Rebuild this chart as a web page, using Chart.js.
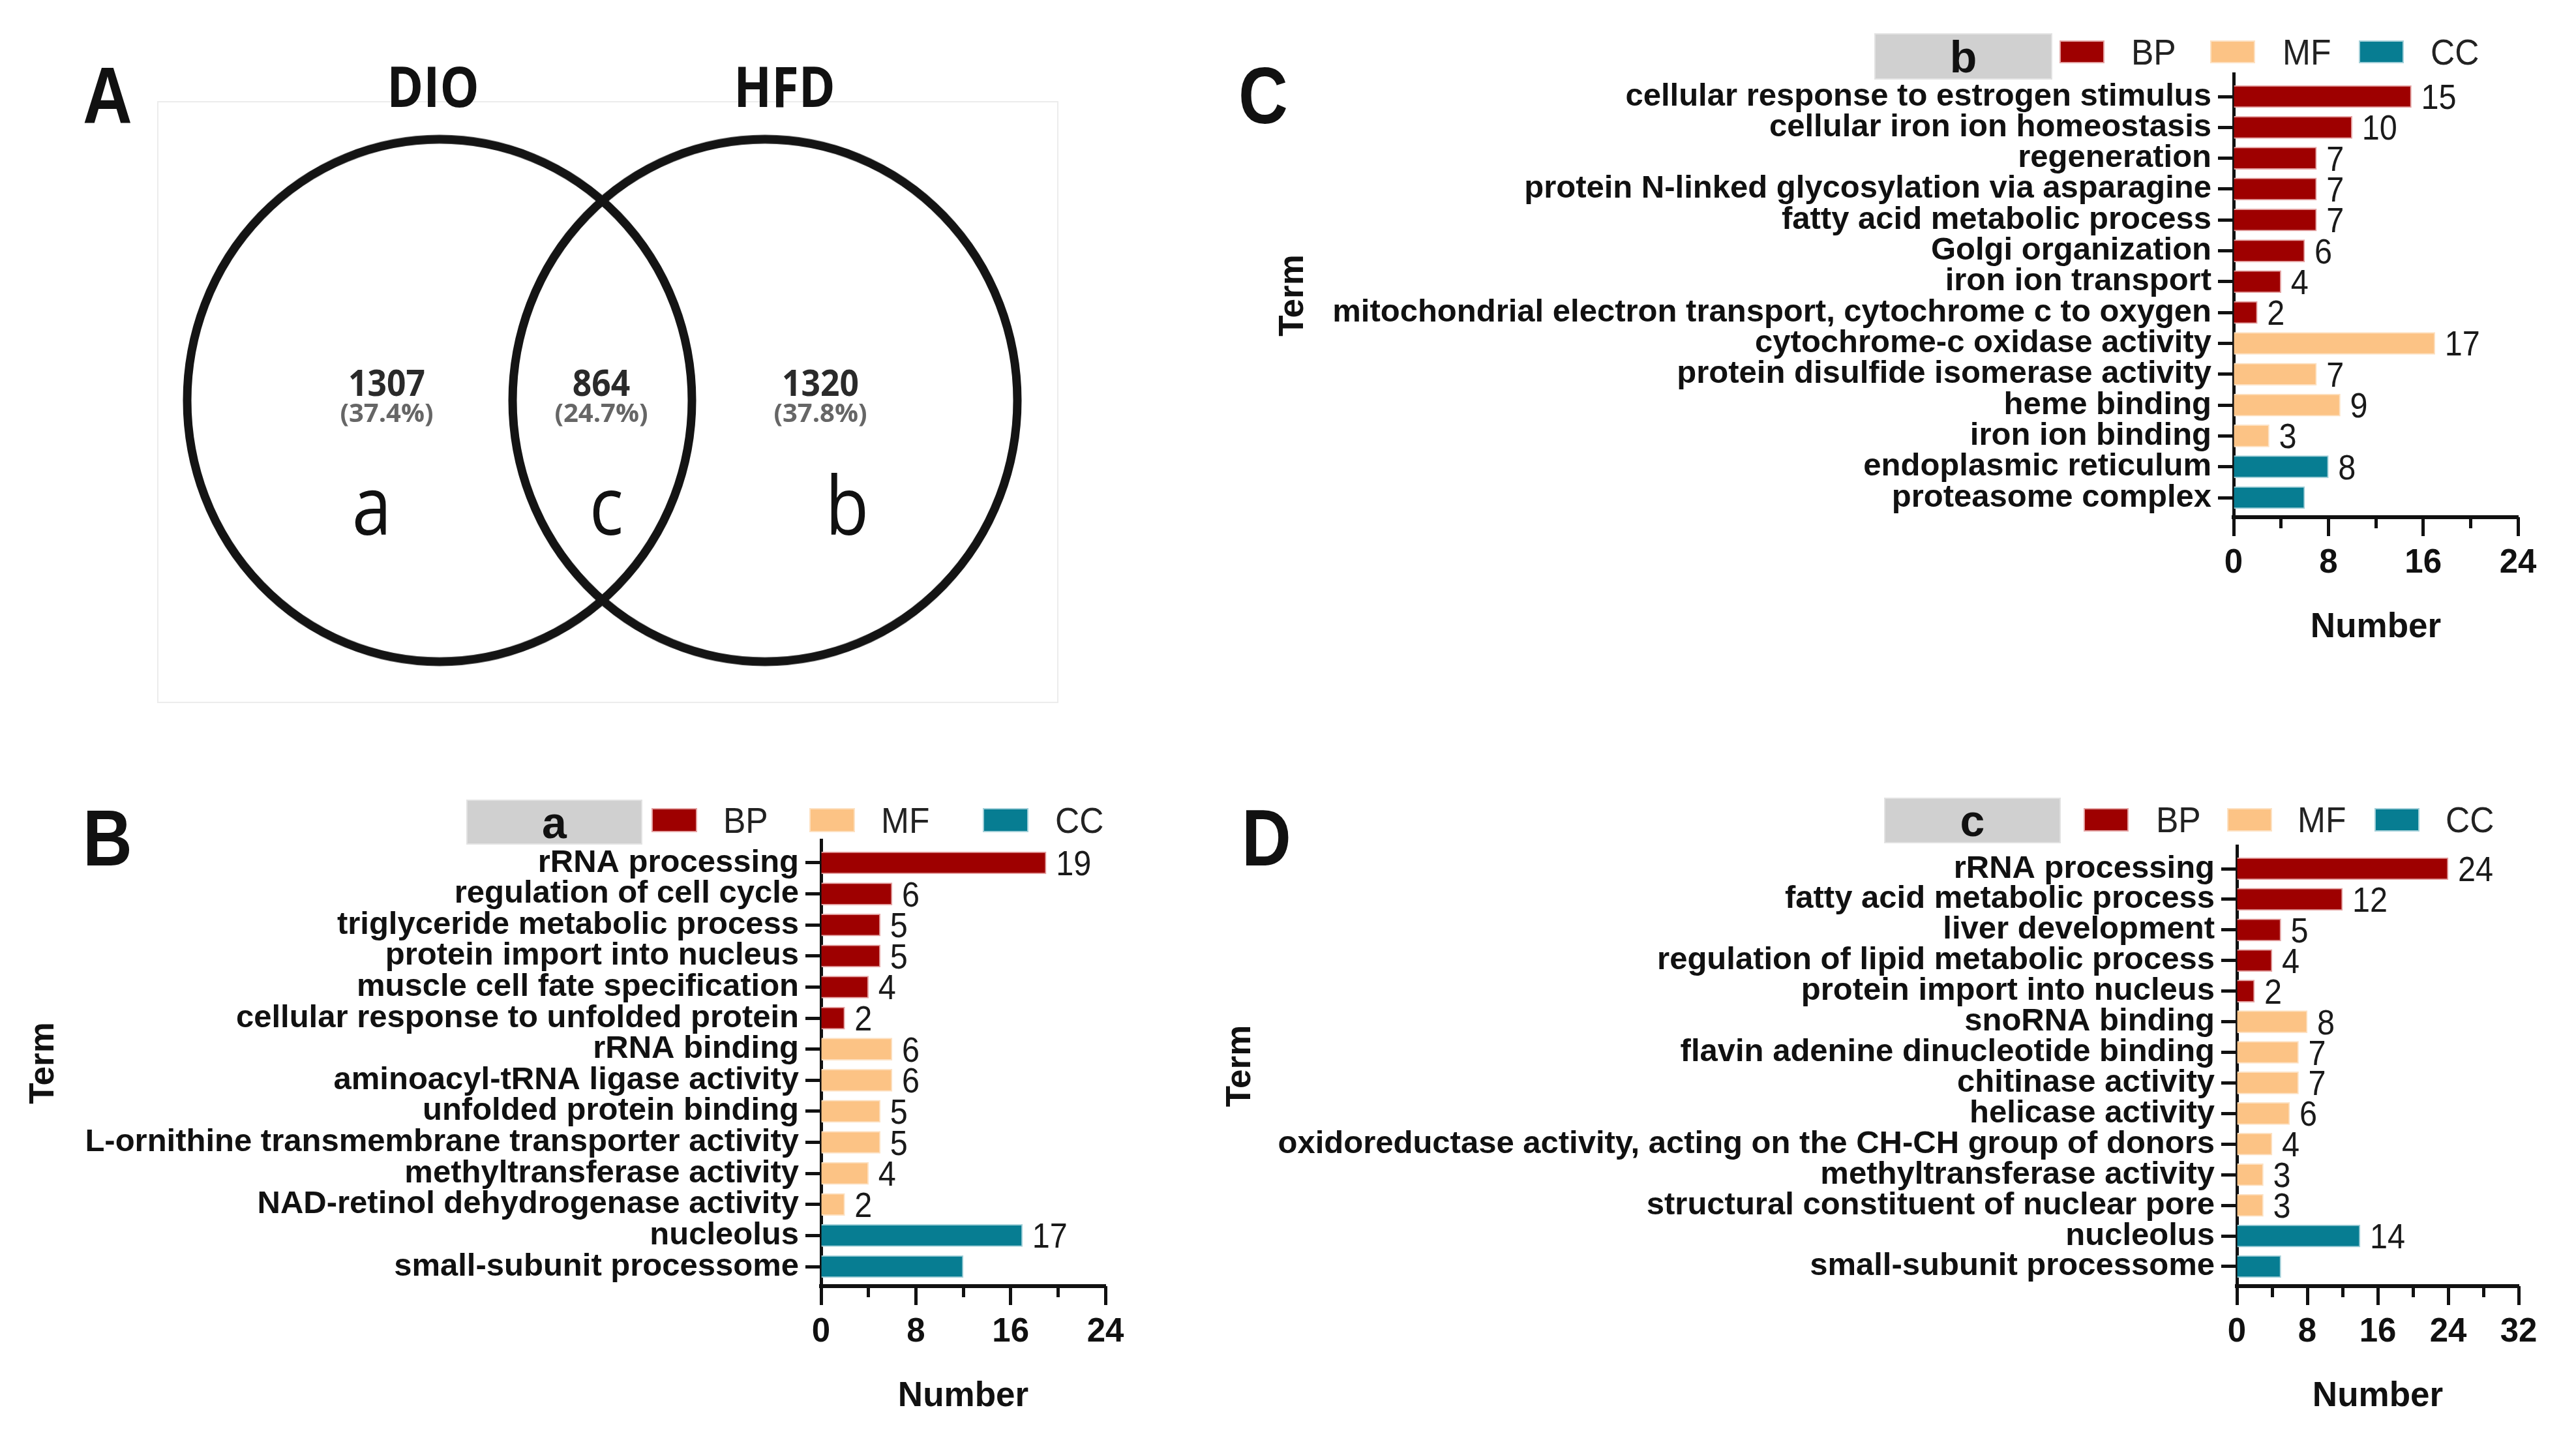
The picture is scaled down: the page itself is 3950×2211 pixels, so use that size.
<!DOCTYPE html>
<html><head><meta charset="utf-8">
<script src="https://cdn.jsdelivr.net/npm/chart.js@4.4.1/dist/chart.umd.min.js"></script>
<style>
html,body{margin:0;padding:0;background:#fff;}
body{width:3950px;height:2211px;position:relative;overflow:hidden;font-family:'Liberation Sans',Arial,sans-serif;color:#111;}
canvas{position:absolute;}
.t{position:absolute;white-space:nowrap;line-height:1;transform:translate(-50%,-50%);}
.panel{font-weight:bold;font-size:122px;transform:translate(-50%,-50%) scaleX(0.86);}
.venn{font-family:'Open Sans',sans-serif;}
.lgbox{position:absolute;background:#d0d0d0;border:2px solid #e2e2e2;box-sizing:border-box;display:flex;align-items:center;justify-content:center;font-weight:bold;font-size:68px;color:#111;}
.sw{position:absolute;box-sizing:border-box;border:2px solid;}
.lt{position:absolute;font-size:56px;color:#222;line-height:1;transform:translateY(-50%) scaleX(0.92);transform-origin:left center;}
</style></head><body>
<script>
// ---------- data ----------
const GROUPS = ["BP", "MF", "CC"];
const GROUP_COLORS = {BP: "#9e0000", MF: "#fcc385", CC: "#077d92"};
const GROUP_HALO = {BP: "#e4a3a3", MF: "#fde1c2", CC: "#a3d0d9"};

// Venn (panel A)
const vennSets = ["DIO", "HFD"];
const vennCounts = ["1307", "864", "1320"];
const vennPercents = ["(37.4%)", "(24.7%)", "(37.8%)"];
const vennRegions = ["a", "c", "b"];

// Panel B : set a
const termsA = ["rRNA processing", "regulation of cell cycle", "triglyceride metabolic process", "protein import into nucleus", "muscle cell fate specification", "cellular response to unfolded protein", "rRNA binding", "aminoacyl-tRNA ligase activity", "unfolded protein binding", "L-ornithine transmembrane transporter activity", "methyltransferase activity", "NAD-retinol dehydrogenase activity", "nucleolus", "small-subunit processome"];
const valuesA = [19, 6, 5, 5, 4, 2, 6, 6, 5, 5, 4, 2, 17, 12];
const groupsA = ["BP", "BP", "BP", "BP", "BP", "BP", "MF", "MF", "MF", "MF", "MF", "MF", "CC", "CC"];
const labelledA = [1, 1, 1, 1, 1, 1, 1, 1, 1, 1, 1, 1, 1, 0];
const xMaxA = 24;

// Panel C : set b
const termsB = ["cellular response to estrogen stimulus", "cellular iron ion homeostasis", "regeneration", "protein N-linked glycosylation via asparagine", "fatty acid metabolic process", "Golgi organization", "iron ion transport", "mitochondrial electron transport, cytochrome c to oxygen", "cytochrome-c oxidase activity", "protein disulfide isomerase activity", "heme binding", "iron ion binding", "endoplasmic reticulum", "proteasome complex"];
const valuesB = [15, 10, 7, 7, 7, 6, 4, 2, 17, 7, 9, 3, 8, 6];
const groupsB = ["BP", "BP", "BP", "BP", "BP", "BP", "BP", "BP", "MF", "MF", "MF", "MF", "CC", "CC"];
const labelledB = [1, 1, 1, 1, 1, 1, 1, 1, 1, 1, 1, 1, 1, 0];
const xMaxB = 24;

// Panel D : set c
const termsC = ["rRNA processing", "fatty acid metabolic process", "liver development", "regulation of lipid metabolic process", "protein import into nucleus", "snoRNA binding", "flavin adenine dinucleotide binding", "chitinase activity", "helicase activity", "oxidoreductase activity, acting on the CH-CH group of donors", "methyltransferase activity", "structural constituent of nuclear pore", "nucleolus", "small-subunit processome"];
const valuesC = [24, 12, 5, 4, 2, 8, 7, 7, 6, 4, 3, 3, 14, 5];
const groupsC = ["BP", "BP", "BP", "BP", "BP", "MF", "MF", "MF", "MF", "MF", "MF", "MF", "CC", "CC"];
const labelledC = [1, 1, 1, 1, 1, 1, 1, 1, 1, 1, 1, 1, 1, 0];
const xMaxC = 32;

// ---------- helpers ----------
Chart.defaults.font.family = "'Liberation Sans', Arial, sans-serif";
Chart.defaults.color = "#111";

function addCanvas(left, top, w, h) {
  const c = document.createElement("canvas");
  c.width = w; c.height = h;
  c.style.left = left + "px"; c.style.top = top + "px";
  c.style.width = w + "px"; c.style.height = h + "px";
  document.body.appendChild(c);
  return c;
}
function addText(txt, x, y, cls, style) {
  const d = document.createElement("div");
  d.className = "t " + (cls || "");
  d.textContent = txt;
  d.style.left = x + "px"; d.style.top = y + "px";
  Object.assign(d.style, style || {});
  document.body.appendChild(d);
  return d;
}
function addLegend(letter, box, sqX, sqY, sqW, sqH, txX, cy) {
  const b = document.createElement("div");
  b.className = "lgbox"; b.textContent = letter;
  Object.assign(b.style, {left: box[0] + "px", top: box[1] + "px", width: box[2] + "px", height: box[3] + "px"});
  document.body.appendChild(b);
  GROUPS.forEach((g, i) => {
    const s = document.createElement("div");
    s.className = "sw";
    Object.assign(s.style, {left: sqX[i] + "px", top: sqY + "px", width: sqW + "px", height: sqH + "px", background: GROUP_COLORS[g], borderColor: GROUP_HALO[g]});
    document.body.appendChild(s);
    const t = document.createElement("div");
    t.className = "lt"; t.textContent = g;
    t.style.left = txX[i] + "px"; t.style.top = cy + "px";
    document.body.appendChild(t);
  });
}

const valueLabelPlugin = {
  id: "valueLabels",
  afterDatasetsDraw(chart) {
    const ctx = chart.ctx;
    ctx.save();
    ctx.font = "54px 'Liberation Sans', Arial, sans-serif";
    ctx.fillStyle = "#1a1a1a";
    ctx.textAlign = "left";
    ctx.textBaseline = "alphabetic";
    chart.data.datasets.forEach((ds, di) => {
      const meta = chart.getDatasetMeta(di);
      meta.data.forEach((bar, j) => {
        const d = ds.data[j];
        if (!d.show) return;
        ctx.save();
        ctx.translate(bar.x + 15, bar.y + 19);
        ctx.scale(0.9, 1);
        ctx.fillText(String(d.x), 0, 0);
        ctx.restore();
      });
    });
    ctx.restore();
  }
};

function makeBarChart(canvas, terms, values, groups, labelled, xMax, yMin, yMax, yWidth, pad) {
  const datasets = GROUPS.map(g => ({
    label: g,
    data: values.map((v, i) => ({x: v, y: i, show: !!labelled[i]})).filter((d, i) => groups[i] === g),
    backgroundColor: GROUP_COLORS[g],
    borderColor: GROUP_HALO[g],
    borderWidth: 2,
    barThickness: 34,
    grouped: false
  }));
  return new Chart(canvas, {
    type: "bar",
    data: {datasets},
    options: {
      indexAxis: "y",
      responsive: false,
      animation: false,
      devicePixelRatio: 1,
      layout: {padding: pad, autoPadding: false},
      plugins: {legend: {display: false}, tooltip: {enabled: false}},
      scales: {
        x: {
          type: "linear", position: "bottom", min: 0, max: xMax, offset: false,
          ticks: {stepSize: 8, font: {size: 51, weight: "bold"}, color: "#111", padding: 11, maxRotation: 0},
          grid: {drawOnChartArea: false, offset: false, tickLength: 29, tickWidth: 5, tickColor: "#111"},
          border: {width: 6, color: "#111"},
          title: {display: true, text: "Number", font: {size: 53, weight: "bold"}, color: "#111", padding: 0},
          afterFit(s) { s.height = 201; }
        },
        xm: {
          axis: "x", type: "linear", position: {y: yMax}, min: 0, max: xMax, offset: false,
          ticks: {stepSize: 4, display: false},
          grid: {drawOnChartArea: false, offset: false, tickLength: 17, tickWidth: 5, tickColor: "#111"},
          border: {display: false}
        },
        y: {
          type: "linear", position: "left", reverse: true, min: yMin, max: yMax, offset: false,
          afterBuildTicks(s) { s.ticks = terms.map((t, i) => ({value: i})); },
          ticks: {autoSkip: false, callback: v => (terms[v] !== undefined ? terms[v] : ""), font: {size: 49, weight: "bold"}, color: "#111", padding: 10},
          grid: {drawOnChartArea: false, offset: false, tickLength: 24, tickWidth: 5, tickColor: "#111"},
          border: {width: 5, color: "#111"},
          title: {display: true, text: "Term", font: {size: 53, weight: "bold"}, color: "#111", padding: 0},
          afterFit(s) { s.width = yWidth; }
        }
      }
    },
    plugins: [valueLabelPlugin]
  });
}

// ---------- panel letters ----------
addText("A", 165, 147, "panel");
addText("B", 165, 1285, "panel");
addText("C", 1937, 147, "panel");
addText("D", 1942, 1285, "panel");

// ---------- panel A : Venn ----------
const vbox = document.createElement("div");
Object.assign(vbox.style, {position: "absolute", left: "241px", top: "155px", width: "1382px", height: "923px", border: "2px solid #ececec", boxSizing: "border-box"});
document.body.appendChild(vbox);
const vennCanvas = addCanvas(241, 155, 1365, 918);
vennCanvas.style.transform = "scaleY(1.035)";
vennCanvas.style.transformOrigin = "50% 50%";
new Chart(vennCanvas, {
  type: "scatter",
  data: {datasets: [{
    data: vennSets.map((s, i) => ({x: i, y: 0})),
    pointRadius: 387, pointHoverRadius: 387,
    pointBorderWidth: 13, pointBorderColor: "#141414",
    pointBackgroundColor: "rgba(0,0,0,0)",
    clip: false
  }]},
  options: {
    responsive: false, animation: false, devicePixelRatio: 1,
    layout: {padding: 0, autoPadding: false},
    plugins: {legend: {display: false}, tooltip: {enabled: false}},
    scales: {
      x: {display: false, min: -0.8677, max: 1.8677},
      y: {display: false, min: -1, max: 1}
    }
  }
});
const vennTitleStyle = {fontWeight: "bold", fontSize: "86px", transform: "translate(-50%,-50%) scaleX(0.88)"};
addText(vennSets[0], 664, 131, "venn", vennTitleStyle);
addText(vennSets[1], 1203, 131, "venn", vennTitleStyle);
const vx = [593, 922, 1258];
const rx = [570, 930, 1299];
vennCounts.forEach((c, i) => addText(c, vx[i], 585, "venn", {fontWeight: "bold", fontSize: "56px", color: "#2a2a2a", transform: "translate(-50%,-50%) scaleX(0.92)"}));
vennPercents.forEach((p, i) => addText(p, vx[i], 632, "venn", {fontWeight: "bold", fontSize: "40px", color: "#666"}));
vennRegions.forEach((r, i) => addText(r, rx[i], 772, "venn", {fontSize: "124px", color: "#111", transform: "translate(-50%,-50%) scaleX(0.88)"}));

// ---------- panel C (set b) ----------
addLegend("b", [2874, 51, 273, 71], [3158, 3389, 3617], 62, 69, 35, [3268, 3500, 3727], 80);
makeBarChart(addCanvas(1952, 0, 1998, 1010), termsB, valuesB, groupsB, labelledB, xMaxB,
  -0.74, 13.634, 1473, {top: 113, right: 89, bottom: 16, left: 0});

// ---------- panel B (set a) ----------
addLegend("a", [715, 1226, 270, 69], [999, 1241, 1507], 1239, 70, 37, [1109, 1351, 1618], 1258);
makeBarChart(addCanvas(36, 1180, 1800, 1031), termsA, valuesA, groupsA, labelledA, xMaxA,
  -0.735, 13.63, 1223, {top: 108, right: 141, bottom: 38, left: 0});

// ---------- panel D (set c) ----------
addLegend("c", [2889, 1223, 271, 70], [3195, 3415, 3641], 1239, 69, 36, [3306, 3523, 3750], 1257);
makeBarChart(addCanvas(1871, 1180, 2079, 1031), termsC, valuesC, groupsC, labelledC, xMaxC,
  -0.746, 13.64, 1559, {top: 117, right: 88, bottom: 38, left: 0});
</script>
</body></html>
